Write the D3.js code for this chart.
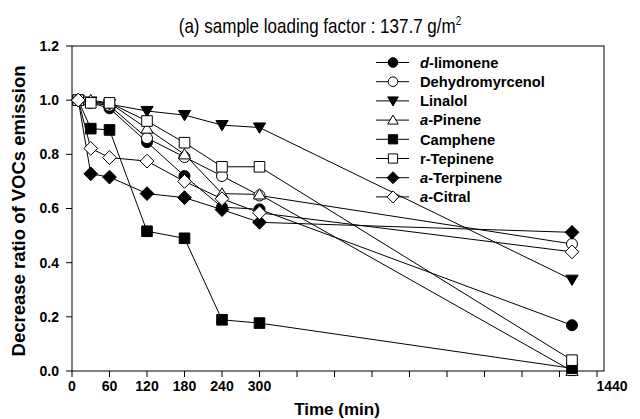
<!DOCTYPE html>
<html><head><meta charset="utf-8">
<script src="https://cdn.jsdelivr.net/npm/d3@7"></script>
<style>
body{margin:0;background:#fff;}
svg{display:block;}
text{font-family:"Liberation Sans",Arial,sans-serif;}
</style></head>
<body>
<svg id="chart" width="640" height="419"></svg>
<script>
const times = [10, 30, 60, 120, 180, 240, 300, 1440];
const seriesNames = ["d-limonene","Dehydromyrcenol","Linalol","a-Pinene","Camphene","r-Tepinene","a-Terpinene","a-Citral"];
const italicPrefix = ["d","","","a","","","a","a"];
const labelRest = ["-limonene","Dehydromyrcenol","Linalol","-Pinene","Camphene","r-Tepinene","-Terpinene","-Citral"];
const dLimonene      = [1.0, 0.99, 0.97, 0.845, 0.72, 0.605, 0.597, 0.169];
const dehydromyrcenol= [1.0, 0.99, 0.98, 0.86, 0.79, 0.72, 0.648, 0.469];
const linalol        = [1.0, 0.995, 0.985, 0.96, 0.945, 0.908, 0.899, 0.337];
const aPinene        = [1.0, 1.0, 0.99, 0.895, 0.80, 0.655, 0.652, 0.0];
const camphene       = [1.0, 0.895, 0.89, 0.516, 0.49, 0.189, 0.177, 0.01];
const rTepinene      = [1.0, 0.99, 0.99, 0.923, 0.843, 0.754, 0.754, 0.04];
const aTerpinene     = [1.0, 0.728, 0.716, 0.655, 0.64, 0.596, 0.549, 0.512];
const aCitral        = [1.0, 0.822, 0.788, 0.775, 0.70, 0.636, 0.584, 0.44];
const seriesValues = [dLimonene, dehydromyrcenol, linalol, aPinene, camphene, rTepinene, aTerpinene, aCitral];
const markerShapes = ["circle","circle","triDown","triUp","square","square","diamond","diamond"];
const markerFilled = [true,false,true,false,true,false,true,false];
const yTicks = [0,0.2,0.4,0.6,0.8,1.0,1.2];
const xTickLabels = [0,60,120,180,240,300];
const xAxisTicks = [0,60,120,180,240,300,360,420,480,540,600,660,720,780,840];
const lastLabel = "1440";

const svg = d3.select("#chart");
const L=72, R=604, T=46, B=371;
// axis (display) scale: regular 60-min grid
const xAxis = d3.scaleLinear().domain([0,840]).range([L,597]);
// data scale: linear to 300 min, compressed break to 1440
const x = d3.scaleLinear().domain([0,300,1440]).range([xAxis(0), xAxis(300), xAxis(800)]);
const y = d3.scaleLinear().domain([0,1.2]).range([B,T]);

// frame
svg.append("rect").attr("x",L).attr("y",T).attr("width",R-L).attr("height",B-T)
  .attr("fill","none").attr("stroke","#000").attr("stroke-width",1);

// y ticks
const gy = svg.append("g");
yTicks.forEach(v=>{
  gy.append("line").attr("x1",L-6).attr("x2",L).attr("y1",y(v)).attr("y2",y(v)).attr("stroke","#000");
  gy.append("text").attr("x",L-13).attr("y",y(v)).attr("dy","0.35em").attr("text-anchor","end")
    .attr("font-size",14).attr("font-weight","bold").text(v.toFixed(1));
});
// x ticks
const gx = svg.append("g");
xAxisTicks.forEach(v=>{
  gx.append("line").attr("x1",xAxis(v)).attr("x2",xAxis(v)).attr("y1",B).attr("y2",B+6).attr("stroke","#000");
});
xTickLabels.forEach(v=>{
  gx.append("text").attr("x",xAxis(v)).attr("y",B+20).attr("text-anchor","middle")
    .attr("font-size",14).attr("font-weight","bold").text(v);
});
gx.append("text").attr("x",xAxis(840)+15).attr("y",B+20).attr("text-anchor","middle")
  .attr("font-size",14).attr("font-weight","bold").text(lastLabel);

// axis titles
svg.append("text").attr("x",337).attr("y",415).attr("text-anchor","middle")
  .attr("font-size",17).attr("font-weight","bold").text("Time (min)");
svg.append("text").attr("transform","translate(25,211) rotate(-90)").attr("text-anchor","middle")
  .attr("font-size",18.5).attr("font-weight","bold").text("Decrease ratio of VOCs emission");

// title (condensed look)
const title = svg.append("text").attr("transform","translate(320,33) scale(0.83,1)").attr("text-anchor","middle")
  .attr("font-size",20.5);
title.append("tspan").text("(a) sample loading factor : 137.7 g/m");
title.append("tspan").attr("dy",-8).attr("font-size",12).text("2");

// symbol path builder
function markerPath(shape, s){
  if(shape==="circle") return d3.symbol().type(d3.symbolCircle).size(Math.PI*s*s)();
  if(shape==="square") return `M${-s},${-s}H${s}V${s}H${-s}Z`;
  if(shape==="diamond"){const h=s*1.3; return `M0,${-h}L${h},0L0,${h}L${-h},0Z`;}
  if(shape==="triDown"){const h=s*1.15; return `M${-h},${-h*0.75}L${h},${-h*0.75}L0,${h*0.95}Z`;}
  if(shape==="triUp"){const h=s*1.15; return `M${-h},${h*0.75}L${h},${h*0.75}L0,${-h*0.95}Z`;}
}

const line = d3.line().x(d=>x(d[0])).y(d=>y(d[1]));
const data = seriesValues.map(vals=>times.map((t,i)=>[t,vals[i]]));

// lines
svg.append("g").selectAll("path").data(data).join("path")
  .attr("d",line).attr("fill","none").attr("stroke","#000").attr("stroke-width",1);

// markers
data.forEach((pts,si)=>{
  svg.append("g").selectAll("path").data(pts).join("path")
    .attr("transform",d=>`translate(${x(d[0])},${y(d[1])})`)
    .attr("d",markerPath(markerShapes[si], markerShapes[si]==="circle"?5.5:5.3))
    .attr("fill",markerFilled[si]?"#000":"#fff").attr("stroke","#000").attr("stroke-width",1);
});

// legend
const lg = svg.append("g");
seriesNames.forEach((n,i)=>{
  const ly = 62.5 + i*19.2;
  lg.append("line").attr("x1",376).attr("x2",409).attr("y1",ly).attr("y2",ly).attr("stroke","#000");
  lg.append("path").attr("transform",`translate(393,${ly})`)
    .attr("d",markerPath(markerShapes[i], markerShapes[i]==="circle"?4.8:4.6))
    .attr("fill",markerFilled[i]?"#000":"#fff").attr("stroke","#000");
  const t = lg.append("text").attr("x",420).attr("y",ly).attr("dy","0.36em")
    .attr("font-size",14.7).attr("font-weight","bold");
  if(italicPrefix[i]) t.append("tspan").attr("font-style","italic").text(italicPrefix[i]);
  t.append("tspan").text(labelRest[i]);
});
</script>
</body></html>
